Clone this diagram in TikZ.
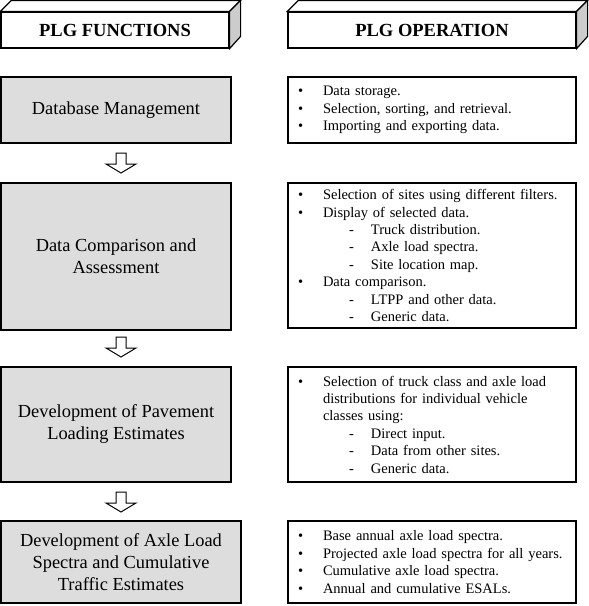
\documentclass[tikz,border=0pt]{standalone}
\usepackage{fontspec}
\setmainfont{Liberation Serif}
\usetikzlibrary{calc}
\definecolor{boxgray}{RGB}{221,221,221}
\definecolor{sidegray}{RGB}{204,204,204}
\newcommand{\bul}[1]{\makebox[10pt]{}\makebox[25pt][l]{•}#1}
\newcommand{\cnt}[1]{\makebox[35pt]{}#1}
\newcommand{\dsh}[1]{\makebox[61pt]{}\makebox[22pt][l]{-}#1}
\tikzset{
  hdr/.style={draw, fill=white, line width=1.2pt, inner sep=0pt, minimum height=36pt,
    font=\fontsize{18.5}{22}\selectfont\bfseries},
  fbox/.style={draw, fill=boxgray, line width=1.2pt, inner sep=0pt, align=center,
    font=\fontsize{18.4}{22}\selectfont},
  obox/.style={draw, fill=white, line width=1.2pt, inner sep=0pt, align=left,
    text width=288pt, minimum width=288pt, font=\fontsize{14.5}{17.4}\selectfont},
  side/.style={draw, line width=1.2pt, line join=miter},
  barrow/.style={draw, fill=white, line width=1pt, line join=miter}
}
\begin{document}
\begin{tikzpicture}[x=1pt,y=-1pt]
\useasboundingbox (0,0) rectangle (589,606);

% headers
\node[hdr, minimum width=228pt] (h1) at (115,30) {PLG FUNCTIONS};
\draw[side, fill=white] (h1.north west) -- ++(11,-11) -- ($(h1.north east)+(11,-11)$) -- (h1.north east) -- cycle;
\draw[side, fill=sidegray] (h1.north east) -- ++(11,-11) -- ++(0,36) -- (h1.south east) -- cycle;

\node[hdr, minimum width=288pt] (h2) at (432,30) {PLG OPERATION};
\draw[side, fill=white] (h2.north west) -- ++(11,-11) -- ($(h2.north east)+(11,-11)$) -- (h2.north east) -- cycle;
\draw[side, fill=sidegray] (h2.north east) -- ++(11,-11) -- ++(0,36) -- (h2.south east) -- cycle;

% function boxes
\node[fbox, minimum width=230pt, minimum height=66pt] (f1) at (116,110) {Database Management};
\node[fbox, minimum width=230pt, minimum height=147pt] (f2) at (116,256.5) {Data Comparison and\\Assessment};
\node[fbox, minimum width=230pt, minimum height=115pt] (f3) at (116,424.5) {Development of Pavement\\Loading Estimates};
\node[fbox, minimum width=240pt, minimum height=82pt] (f4) at (121,562) {Development of Axle Load\\Spectra and Cumulative\\Traffic Estimates};

% operation boxes
\node[obox, minimum height=66pt] (o1) at (432,110) {%
\bul{Data storage.}\\
\bul{Selection, sorting, and retrieval.}\\
\bul{Importing and exporting data.}};
\node[obox, minimum height=145pt] (o2) at (432,255.5) {%
\bul{Selection of sites using different filters.}\\
\bul{Display of selected data.}\\
\dsh{Truck distribution.}\\
\dsh{Axle load spectra.}\\
\dsh{Site location map.}\\
\bul{Data comparison.}\\
\dsh{LTPP and other data.}\\
\dsh{Generic data.}};
\node[obox, minimum height=115pt] (o3) at (432,424.5) {%
\bul{Selection of truck class and axle load}\\
\cnt{distributions for individual vehicle}\\
\cnt{classes using:}\\
\dsh{Direct input.}\\
\dsh{Data from other sites.}\\
\dsh{Generic data.}};
\node[obox, minimum height=82pt] (o4) at (432,562) {%
\bul{Base annual axle load spectra.}\\
\bul{Projected axle load spectra for all years.}\\
\bul{Cumulative axle load spectra.}\\
\bul{Annual and cumulative ESALs.}};

% block arrows
\coordinate (a1) at (121,153);
\coordinate (a2) at (121,337);
\coordinate (a3) at (121,492);
\foreach \a in {a1,a2,a3}{
  \draw[barrow] (\a) +(-5,0) -- +(5,0) -- +(5,11) -- +(15,11) -- +(0,20) -- +(-15,11) -- +(-5,11) -- cycle;
}
\end{tikzpicture}
\end{document}
